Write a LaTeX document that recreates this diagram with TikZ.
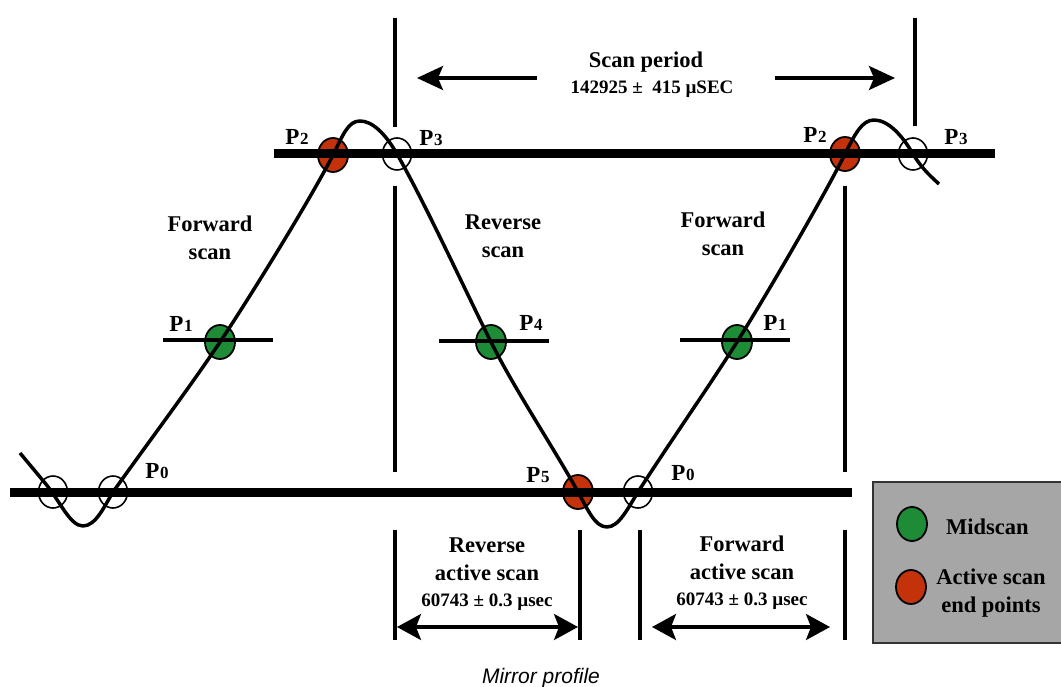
\documentclass[tikz,border=0pt]{standalone}
\usepackage{fontspec}
\setmainfont{Liberation Serif}
\newfontfamily\capfont{Liberation Sans}
\usetikzlibrary{arrows.meta,shapes.geometric}
\definecolor{midgreen}{RGB}{30,140,55}
\definecolor{endred}{RGB}{196,50,12}
\definecolor{legendgray}{RGB}{166,166,166}
\newcommand\Plab[1]{P\kern0.5pt{\fontsize{17}{17}\selectfont #1}}
\begin{document}
\begin{tikzpicture}[x=1pt,y=-1pt,
  bar/.style={line width=9pt},
  rule/.style={line width=3.2pt},
  curve/.style={line width=3.5pt, line join=round},
  dot/.style={ellipse, draw=black, line width=1.8pt, minimum width=30pt, minimum height=34pt, inner sep=0pt},
  mid/.style={dot, fill=midgreen},
  endp/.style={dot, fill=endred},
  openp/.style={ellipse, draw=black, line width=1.6pt, minimum width=29pt, minimum height=32pt, inner sep=0pt},
  plab/.style={font=\fontsize{23}{23}\selectfont\bfseries, inner sep=0pt},
  lab/.style={font=\fontsize{22.5}{28}\selectfont\bfseries, align=center, inner sep=0pt},
  num/.style={font=\fontsize{19}{20}\selectfont\bfseries, inner sep=0pt},
  arr/.style={line width=3.2pt, -{Stealth[length=26pt,width=24pt,inset=5pt]}},
  darr/.style={line width=3.2pt, {Stealth[length=24pt,width=26pt,inset=5pt]}-{Stealth[length=24pt,width=26pt,inset=5pt]}},
]
\useasboundingbox (0,0) rectangle (1061,687);

% legend box
\draw[fill=legendgray, draw=black!80, line width=1.4pt] (873,482) rectangle (1064,643);
\node[mid] (lg) at (912,524) {};
\node[lab, anchor=west] (lgt) at (946,527) {Midscan};
\node[endp] (lr) at (911,587) {};
\node[lab] (lrt) at (991,593) {Active scan\\end points};

% scan points
\node[openp] (a0) at (53,492) {};
\node[openp] (p0l) at (113,492) {};
\node[mid] (p1l) at (220,342) {};
\node[endp] (p2l) at (333,155) {};
\node[openp] (p3l) at (397,154) {};
\node[mid] (p4) at (491,342) {};
\node[endp] (p5) at (578,492) {};
\node[openp] (p0r) at (638,492) {};
\node[mid] (p1r) at (737,342) {};
\node[endp] (p2r) at (845,154) {};
\node[openp] (p3r) at (913,154) {};

\coordinate (s) at (20,453);
\coordinate (m1) at (83,526);
\coordinate (t1) at (360,121);
\coordinate (m2) at (607,527);
\coordinate (t2) at (874,120);
\coordinate (e) at (939,184);

% thick bars
\draw[bar] (274,154) -- (995,154);
\draw[bar] (10,492) -- (852,492);

% tick lines through midscan points
\draw[rule] (163,340) -- (273,340);
\draw[rule] (439,341) -- (549,341);
\draw[rule] (680,340) -- (790,340);

% vertical lines
\draw[rule] (395,18) -- (395,127);
\draw[rule] (395,186) -- (395,472);
\draw[rule] (395,530) -- (395,640);
\draw[rule] (915,18) -- (915,126);
\draw[rule] (845,186) -- (845,472);
\draw[rule] (845,530) -- (845,640);
\draw[rule] (580,530) -- (580,640);
\draw[rule] (640,530) -- (640,640);

% mirror curve
\draw[curve] (s) -- (45,483)
  .. controls (60,501) and (70,526) .. (m1)
  .. controls (96,526) and (105,505) .. (p0l.center)
  .. controls (150,440) and (190,387) .. (p1l.center)
  .. controls (250,297) and (310,200) .. (p2l.center)
  .. controls (343,135) and (348,121) .. (t1)
  .. controls (372,121) and (385,133) .. (p3l.center)
  .. controls (425,203) and (465,290) .. (p4.center)
  .. controls (515,390) and (555,450) .. (p5.center)
  .. controls (588,510) and (595,527) .. (m2)
  .. controls (619,527) and (628,508) .. (p0r.center)
  .. controls (668,445) and (710,385) .. (p1r.center)
  .. controls (764,299) and (822,200) .. (p2r.center)
  .. controls (855,134) and (862,120) .. (t2)
  .. controls (888,120) and (902,135) .. (p3r.center)
  .. controls (921,167) and (928,174) .. (e);

% arrows
\coordinate (sp1) at (537,78);
\coordinate (sp2) at (417,78);
\coordinate (sp3) at (775,78);
\coordinate (sp4) at (895,78);
\draw[arr] (sp1) -- (sp2);
\draw[arr] (sp3) -- (sp4);
\coordinate (ra1) at (397,627);
\coordinate (ra2) at (578,627);
\coordinate (fa1) at (652,627);
\coordinate (fa2) at (830,627);
\draw[darr] (ra1) -- (ra2);
\draw[darr] (fa1) -- (fa2);

% texts
\node[lab] (spt) at (646,62) {Scan period};
\node[num] (spn) at (652,89) {142925 ±\ \ 415 µSEC};

\node[plab] (l2l) at (297,137) {\Plab{2}};
\node[plab] (l3l) at (431,138) {\Plab{3}};
\node[plab] (l2r) at (815,135) {\Plab{2}};
\node[plab] (l3r) at (956,137) {\Plab{3}};
\node[plab] (l1l) at (181,324) {\Plab{1}};
\node[plab] (l4) at (531,323) {\Plab{4}};
\node[plab] (l1r) at (775,323) {\Plab{1}};
\node[plab] (l0l) at (157,471) {\Plab{0}};
\node[plab] (l5) at (538,475) {\Plab{5}};
\node[plab] (l0r) at (683,473) {\Plab{0}};

\node[lab] (fs1) at (210,238) {Forward\\scan};
\node[lab] (rs) at (503,236) {Reverse\\scan};
\node[lab] (fs2) at (723,234) {Forward\\scan};

\node[lab] (ras) at (487,559) {Reverse\\active scan};
\node[num] (ran) at (487,602) {60743 ±\ 0.3 µsec};
\node[lab] (fas) at (742,558) {Forward\\active scan};
\node[num] (fan) at (742,601) {60743 ± 0.3 µsec};

\node[font=\capfont\itshape\fontsize{21}{21}\selectfont, inner sep=0pt, anchor=base] (cap) at (541,683) {Mirror profile};
\end{tikzpicture}
\end{document}
